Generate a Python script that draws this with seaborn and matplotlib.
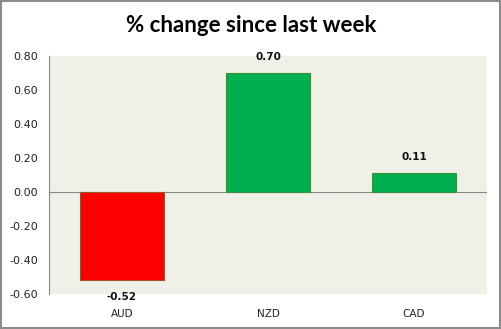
import matplotlib
matplotlib.use("Agg")
import matplotlib.pyplot as plt
import seaborn as sns
import pandas as pd
from matplotlib.patches import Rectangle

categories = ["AUD", "NZD", "CAD"]
values = [-0.52, 0.70, 0.11]
value_labels = ["-0.52", "0.70", "0.11"]
yticks = [-0.60, -0.40, -0.20, 0.00, 0.20, 0.40, 0.60, 0.80]
title = "% change since last week"

sns.set_style("white")
plt.rcParams['font.family'] = ['DejaVu Sans']

df = pd.DataFrame({"currency": categories, "change": values})
colors = ["#FF0000" if v < 0 else "#00B050" for v in values]
edges = ["#A0522D" if v < 0 else "#3C8C3C" for v in values]

fig = plt.figure(figsize=(5.02, 3.29), dpi=100)
ax = fig.add_axes([49/502, 35/329, (487-49)/502, (294-56)/329])
ax.set_facecolor("#EFF1E9")

sns.barplot(data=df, x="currency", y="change", hue="currency", palette=colors,
            legend=False, width=0.57, ax=ax, saturation=1)
for p, ec in zip(ax.patches, edges):
    p.set_edgecolor(ec)
    p.set_linewidth(0.8)

ax.set_ylim(-0.60, 0.80)
ax.set_xlim(-0.5, 2.5)
ax.set_yticks(yticks)
ax.set_yticklabels([f"{t:.2f}" for t in yticks], fontsize=8, color="#222222")
ax.tick_params(axis="y", length=0, pad=8)
ax.tick_params(axis="x", length=0, pad=11, labelsize=7.5, labelcolor="#222222")
ax.set_xlabel("")
ax.set_ylabel("")
for s in ["top", "right", "bottom"]:
    ax.spines[s].set_visible(False)
ax.spines["left"].set_color("#888888")
ax.spines["left"].set_linewidth(0.8)
ax.axhline(0, color="#888888", lw=0.8, zorder=0.5)

for i, (v, lab) in enumerate(zip(values, value_labels)):
    if v >= 0:
        ax.annotate(lab, (i, v), xytext=(0, 8), textcoords="offset points",
                    ha="center", va="bottom", fontsize=7.5, fontweight="bold", color="#111111")
    else:
        ax.annotate(lab, (i, v), xytext=(0, -8), textcoords="offset points",
                    ha="center", va="top", fontsize=7.5, fontweight="bold", color="#111111")

fig.text(0.5, 1 - 25/329, title, ha="center", va="center", fontsize=16,
         fontweight="bold", family=["Lato", "DejaVu Sans"], color="#000000")

fig.patches.append(Rectangle((0.001, 0.003), 0.996, 0.995, transform=fig.transFigure,
                             fill=False, edgecolor="#8C8C8C", linewidth=1.5))

fig.savefig("out.png", dpi=100)
